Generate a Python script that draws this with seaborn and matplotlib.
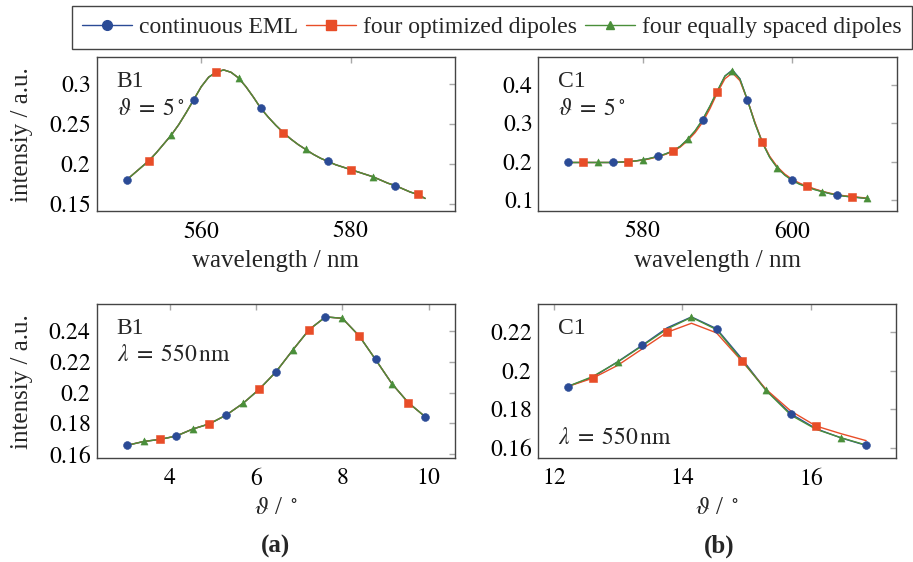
import numpy as np
import matplotlib
matplotlib.use("Agg")
import matplotlib.pyplot as plt
from matplotlib.lines import Line2D
from matplotlib.ticker import FuncFormatter, FixedLocator
import seaborn as sns

# ---------------- data ----------------
series_names = ["continuous EML", "four optimized dipoles", "four equally spaced dipoles"]

# B1, theta = 5 deg: spectrum over wavelength (nm)
b1_wavelength = list(range(550, 591))
b1_spec_eml = [0.180, 0.188, 0.196, 0.204, 0.214, 0.225, 0.236, 0.249, 0.264, 0.280,
               0.296, 0.308, 0.314, 0.317, 0.314, 0.307, 0.296, 0.283, 0.269, 0.258,
               0.248, 0.239, 0.231, 0.224, 0.218, 0.212, 0.207, 0.203, 0.199, 0.196,
               0.193, 0.190, 0.187, 0.184, 0.180, 0.176, 0.173, 0.169, 0.165, 0.162, 0.157]
b1_spec_opt = [0.180, 0.188, 0.196, 0.204, 0.214, 0.225, 0.236, 0.249, 0.264, 0.280,
               0.296, 0.308, 0.314, 0.317, 0.314, 0.307, 0.296, 0.283, 0.269, 0.258,
               0.248, 0.239, 0.231, 0.224, 0.218, 0.212, 0.207, 0.203, 0.199, 0.196,
               0.193, 0.190, 0.187, 0.184, 0.180, 0.176, 0.173, 0.169, 0.165, 0.162, 0.157]
b1_spec_eq = [0.180, 0.188, 0.196, 0.204, 0.214, 0.225, 0.236, 0.249, 0.264, 0.280,
              0.296, 0.308, 0.314, 0.317, 0.314, 0.307, 0.296, 0.283, 0.269, 0.258,
              0.248, 0.239, 0.231, 0.224, 0.218, 0.212, 0.207, 0.203, 0.199, 0.196,
              0.193, 0.190, 0.187, 0.184, 0.180, 0.176, 0.173, 0.169, 0.165, 0.162, 0.157]

# C1, theta = 5 deg: spectrum over wavelength (nm)
c1_wavelength = list(range(570, 611))
c1_spec_eml = [0.198, 0.198, 0.198, 0.198, 0.198, 0.198, 0.198, 0.199, 0.200, 0.202,
               0.205, 0.209, 0.214, 0.220, 0.228, 0.240, 0.258, 0.280, 0.309, 0.345,
               0.385, 0.424, 0.440, 0.417, 0.362, 0.302, 0.251, 0.212, 0.185, 0.166,
               0.152, 0.142, 0.135, 0.128, 0.122, 0.117, 0.113, 0.110, 0.108, 0.106, 0.104]
c1_spec_opt = [0.198, 0.198, 0.198, 0.198, 0.198, 0.198, 0.198, 0.199, 0.200, 0.202,
               0.204, 0.208, 0.213, 0.219, 0.227, 0.238, 0.255, 0.276, 0.303, 0.339,
               0.381, 0.417, 0.432, 0.412, 0.362, 0.304, 0.252, 0.214, 0.187, 0.168,
               0.154, 0.144, 0.136, 0.129, 0.123, 0.118, 0.114, 0.111, 0.109, 0.107, 0.105]
c1_spec_eq = [0.198, 0.198, 0.198, 0.198, 0.198, 0.198, 0.198, 0.199, 0.200, 0.202,
              0.205, 0.209, 0.214, 0.220, 0.228, 0.240, 0.259, 0.281, 0.310, 0.346,
              0.386, 0.424, 0.438, 0.416, 0.362, 0.301, 0.250, 0.211, 0.184, 0.165,
              0.151, 0.141, 0.134, 0.127, 0.122, 0.117, 0.113, 0.110, 0.108, 0.106, 0.104]

# B1, lambda = 550 nm: intensity over angle (deg)
b1_angle = [3.00, 3.40, 3.77, 4.15, 4.54, 4.92, 5.31, 5.70, 6.07, 6.46,
            6.86, 7.23, 7.61, 8.00, 8.39, 8.77, 9.15, 9.53, 9.92]
b1_ang_eml = [0.1657, 0.1683, 0.1696, 0.1718, 0.1764, 0.1797, 0.1854, 0.1930, 0.2020, 0.2133,
              0.2278, 0.2407, 0.2490, 0.2481, 0.2367, 0.2214, 0.2057, 0.1934, 0.1843]
b1_ang_opt = [0.1657, 0.1683, 0.1696, 0.1718, 0.1764, 0.1797, 0.1854, 0.1930, 0.2020, 0.2133,
              0.2278, 0.2407, 0.2490, 0.2481, 0.2367, 0.2214, 0.2057, 0.1934, 0.1843]
b1_ang_eq = [0.1657, 0.1683, 0.1696, 0.1718, 0.1764, 0.1797, 0.1854, 0.1930, 0.2020, 0.2133,
             0.2278, 0.2407, 0.2490, 0.2481, 0.2367, 0.2214, 0.2057, 0.1934, 0.1843]

# C1, lambda = 550 nm: intensity over angle (deg)
c1_angle = [12.21, 12.60, 12.99, 13.37, 13.76, 14.14, 14.53, 14.92, 15.30, 15.69, 16.08, 16.47, 16.86]
c1_ang_eml = [0.1918, 0.1966, 0.2047, 0.2132, 0.2223, 0.2280, 0.2219, 0.2064, 0.1900, 0.1776,
              0.1699, 0.1651, 0.1612]
c1_ang_opt = [0.1918, 0.1961, 0.2028, 0.2113, 0.2200, 0.2247, 0.2197, 0.2052, 0.1904, 0.1790,
              0.1713, 0.1673, 0.1637]
c1_ang_eq = [0.1918, 0.1970, 0.2045, 0.2129, 0.2217, 0.2278, 0.2214, 0.2057, 0.1898, 0.1769,
             0.1696, 0.1652, 0.1614]

# ---------------- style ----------------
sns.set_style("white")
plt.rcParams["font.family"] = ["Liberation Serif", "DejaVu Serif"]
plt.rcParams["mathtext.fontset"] = "stix"

FS = 17
LABEL_FS = 18
colors = ["#2b4b96", "#e84d28", "#4a8f3a"]
markers = ["o", "s", "^"]
msizes = [32, 30, 26]
spine_col = "#444444"
tick_col = "#a8a8a8"

fig = plt.figure(figsize=(9.13, 5.62), dpi=100)
W, H = 0.3925, 0.2745
ax_tl = fig.add_axes([0.1059, 0.624, W, H])
ax_tr = fig.add_axes([0.5896, 0.624, W, H])
ax_bl = fig.add_axes([0.1059, 0.1845, W, H])
ax_br = fig.add_axes([0.5889, 0.1845, W, H])


def math_fmt(v, pos):
    return f"${v:g}$"


def draw_panel(ax, x, ys, step, phases, xticks, yticks):
    x = np.asarray(x, dtype=float)
    # lines first, then the sparse markers on top of all lines
    for y, c in zip(ys, colors):
        sns.lineplot(x=x, y=np.asarray(y), ax=ax, color=c, lw=1.0,
                     estimator=None, sort=False, zorder=2)
    for y, c, m, s, ph in zip(ys, colors, markers, msizes, phases):
        y = np.asarray(y)
        sns.scatterplot(x=x[ph::step], y=y[ph::step], ax=ax, marker=m, s=s,
                        color=c, edgecolor=c, linewidth=0.4, zorder=3)
    ally = np.concatenate([np.asarray(y) for y in ys])
    dx = x.max() - x.min()
    dy = ally.max() - ally.min()
    ax.set_xlim(x.min() - 0.1 * dx, x.max() + 0.1 * dx)
    ax.set_ylim(ally.min() - 0.1 * dy, ally.max() + 0.1 * dy)
    ax.xaxis.set_major_locator(FixedLocator(xticks))
    ax.yaxis.set_major_locator(FixedLocator(yticks))
    ax.yaxis.set_major_formatter(FuncFormatter(math_fmt))
    ax.xaxis.set_major_formatter(FuncFormatter(math_fmt))
    ax.tick_params(direction="in", top=True, right=True, length=4.5, width=1.0,
                   color=tick_col, labelsize=FS, labelcolor="black")
    ax.tick_params(axis="x", pad=7)
    ax.tick_params(axis="y", pad=4)
    for sp in ax.spines.values():
        sp.set_color(spine_col)
        sp.set_linewidth(1.0)
    ax.set_xlabel("")
    ax.set_ylabel("")


draw_panel(ax_tl, b1_wavelength, [b1_spec_eml, b1_spec_opt, b1_spec_eq], 9, [0, 3, 6],
           [560, 580], [0.15, 0.2, 0.25, 0.3])
draw_panel(ax_tr, c1_wavelength, [c1_spec_eml, c1_spec_opt, c1_spec_eq], 6, [0, 2, 4],
           [580, 600], [0.1, 0.2, 0.3, 0.4])
draw_panel(ax_bl, b1_angle, [b1_ang_eml, b1_ang_opt, b1_ang_eq], 3, [0, 2, 1],
           [4, 6, 8, 10], [0.16, 0.18, 0.2, 0.22, 0.24])
draw_panel(ax_br, c1_angle, [c1_ang_eml, c1_ang_opt, c1_ang_eq], 3, [0, 1, 2],
           [12, 14, 16], [0.16, 0.18, 0.2, 0.22])

# axis labels
for ax in (ax_tl, ax_tr):
    ax.set_xlabel("wavelength / nm", fontsize=LABEL_FS, labelpad=5)
for ax in (ax_bl, ax_br):
    ax.set_xlabel(r"$\vartheta$ / $^\circ$", fontsize=LABEL_FS, labelpad=5)
for ax in (ax_tl, ax_bl):
    ax.set_ylabel("intensiy / a.u.", fontsize=LABEL_FS)
    ax.yaxis.set_label_coords(-0.178, 0.5)

# panel annotations
theta_txt = r"$\vartheta\;=\;5^\circ$"
lam_txt = r"$\lambda\;=\;550\,\mathrm{nm}$"
ax_tl.text(0.056, 0.805, "B1", transform=ax_tl.transAxes, fontsize=FS, va="baseline")
ax_tl.text(0.056, 0.625, theta_txt, transform=ax_tl.transAxes, fontsize=FS, va="baseline")
ax_tr.text(0.054, 0.805, "C1", transform=ax_tr.transAxes, fontsize=FS, va="baseline")
ax_tr.text(0.054, 0.625, theta_txt, transform=ax_tr.transAxes, fontsize=FS, va="baseline")
ax_bl.text(0.056, 0.807, "B1", transform=ax_bl.transAxes, fontsize=FS, va="baseline")
ax_bl.text(0.056, 0.633, lam_txt, transform=ax_bl.transAxes, fontsize=FS, va="baseline")
ax_br.text(0.056, 0.807, "C1", transform=ax_br.transAxes, fontsize=FS, va="baseline")
ax_br.text(0.056, 0.093, lam_txt, transform=ax_br.transAxes, fontsize=FS, va="baseline")

# sub-figure captions
fig.text(275 / 913, 0.016, "(a)", fontsize=LABEL_FS, fontweight="bold", ha="center", va="baseline")
fig.text(719 / 913, 0.016, "(b)", fontsize=LABEL_FS, fontweight="bold", ha="center", va="baseline")

# shared legend
handles = [Line2D([0], [0], color=c, lw=1.0, marker=m, markersize=ms,
                  markerfacecolor=c, markeredgecolor=c)
           for c, m, ms in zip(colors, markers, [7.0, 6.5, 6.0])]
leg = fig.legend(handles, series_names, loc="center", bbox_to_anchor=(492 / 913, 1 - 27.7 / 562),
                 ncol=3, frameon=True, fancybox=False, framealpha=1, edgecolor=spine_col,
                 fontsize=FS, handlelength=2.1, handletextpad=0.3, columnspacing=0.35,
                 borderpad=0.45, borderaxespad=0)
leg.get_frame().set_linewidth(1.0)

fig.savefig("out.png", dpi=100)
